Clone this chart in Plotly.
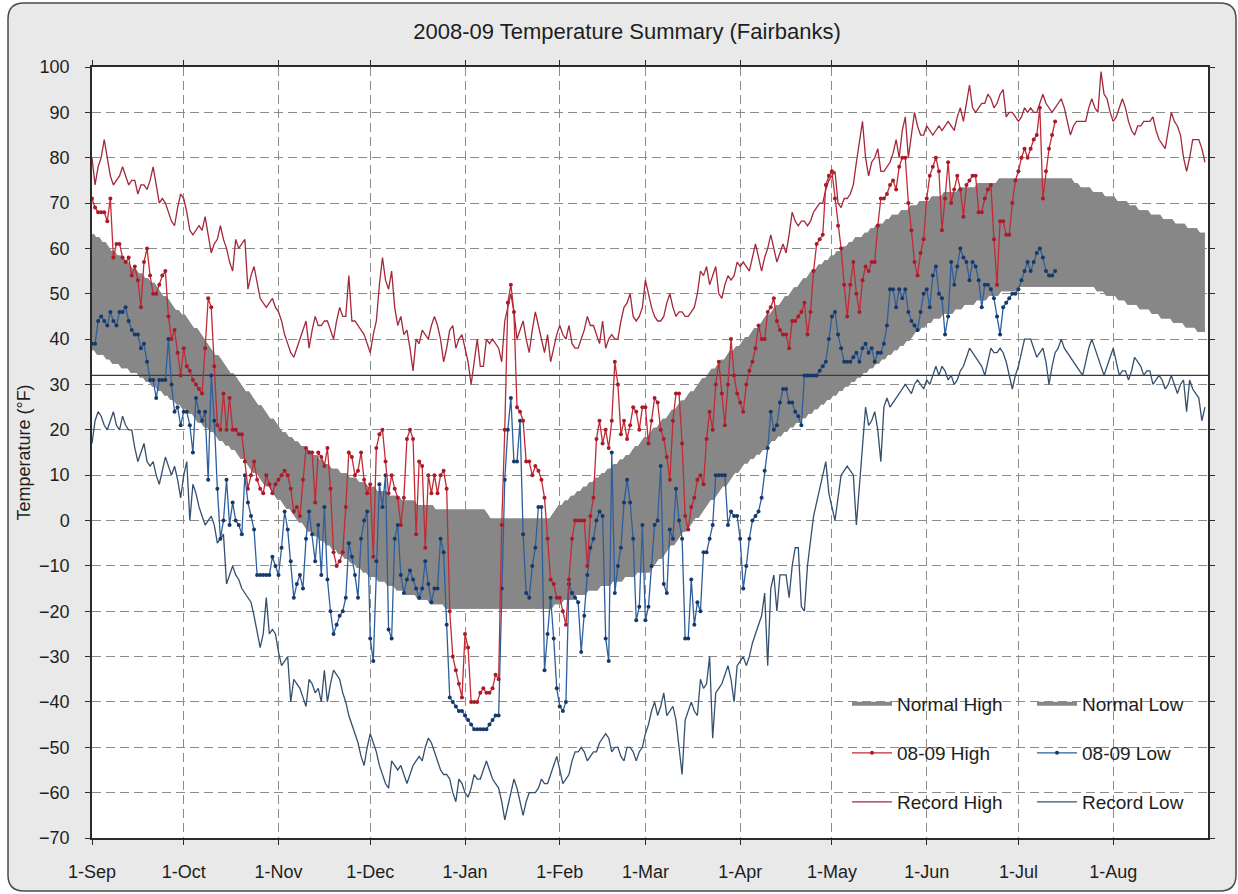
import pandas as pd
import plotly.graph_objects as go

# ---------------- data (daily, starting 1-Sep-2008) ----------------
START = "2008-09-01"
END = "2009-09-01"
MONTH_TICKS = ["2008-09-01", "2008-10-01", "2008-11-01", "2008-12-01", "2009-01-01", "2009-02-01",
               "2009-03-01", "2009-04-01", "2009-05-01", "2009-06-01", "2009-07-01", "2009-08-01"]
MONTH_LABELS = ["1-Sep", "1-Oct", "1-Nov", "1-Dec", "1-Jan", "1-Feb",
                "1-Mar", "1-Apr", "1-May", "1-Jun", "1-Jul", "1-Aug"]
Y_TICKS = list(range(-70, 101, 10))
FREEZING = 32

NORMAL_HIGH = [
    63, 62, 62, 61, 61, 60, 59, 59, 58, 58, 57, 57, 56, 55, 55, 54, 54, 53, 53, 52, 52, 51, 50, 49, 49, 48, 47, 46, 46, 45,
    45, 44, 43, 42, 42, 41, 40, 39, 38, 37, 36, 36, 35, 34, 33, 32, 32, 31, 30, 29, 28, 28, 27, 26, 25, 25, 24, 23, 22, 22, 21,
    20, 19, 19, 18, 18, 17, 17, 16, 16, 15, 15, 14, 14, 13, 13, 12, 12, 11, 11, 11, 10, 10, 10, 9, 9, 9, 8, 8, 8, 7,
    7, 7, 6, 6, 6, 6, 5, 5, 5, 5, 4, 4, 4, 4, 4, 3, 3, 3, 3, 3, 3, 2, 2, 2, 2, 2, 2, 2, 2, 2, 2,
    2, 2, 2, 2, 2, 2, 2, 1, 0, 0, 0, 0, 0, 0, 0, 0, 0, 0, 0, 0, 0, 0, 0, 0, 0, 0, 0, 0, 0, 1, 2,
    3, 3, 4, 4, 5, 5, 6, 6, 7, 7, 8, 8, 9, 9, 10, 10, 11, 11, 12, 12, 13, 13, 14, 14, 15, 16, 16, 17,
    18, 18, 19, 20, 20, 21, 22, 22, 23, 24, 24, 25, 26, 26, 27, 28, 28, 29, 30, 31, 31, 32, 33, 33, 34, 35, 35, 36, 37, 37, 38,
    38, 39, 40, 40, 41, 42, 42, 43, 44, 45, 45, 46, 47, 47, 48, 49, 49, 50, 51, 51, 52, 53, 53, 54, 55, 55, 56, 56, 57, 57,
    58, 58, 59, 59, 60, 60, 61, 61, 62, 62, 62, 63, 63, 64, 64, 65, 65, 65, 66, 66, 67, 67, 67, 68, 68, 68, 69, 69, 69, 70, 70,
    70, 70, 71, 71, 71, 71, 72, 72, 72, 72, 72, 73, 73, 73, 73, 73, 73, 74, 74, 74, 74, 74, 74, 74, 75, 75, 75, 75, 75, 75,
    75, 75, 75, 75, 75, 75, 75, 75, 75, 75, 75, 75, 75, 75, 75, 75, 75, 75, 74, 74, 73, 73, 73, 73, 72, 72, 72, 72, 71, 71, 71,
    71, 70, 70, 70, 70, 69, 69, 69, 68, 68, 68, 68, 67, 67, 67, 67, 66, 66, 66, 66, 65, 65, 65, 65, 64, 64, 64, 64, 63, 63, 63,
]

NORMAL_LOW = [
    38, 38, 37, 37, 37, 36, 36, 35, 35, 35, 34, 34, 34, 33, 33, 33, 32, 32, 31, 31, 30, 30, 29, 29, 28, 28, 27, 27, 26, 26,
    25, 25, 24, 24, 23, 22, 22, 21, 21, 20, 20, 19, 18, 18, 17, 17, 16, 16, 15, 14, 14, 13, 12, 11, 11, 10, 9, 8, 8, 7, 6,
    5, 5, 4, 3, 3, 2, 1, 0, 0, -1, -2, -2, -3, -3, -4, -4, -5, -5, -6, -6, -7, -7, -8, -8, -9, -9, -10, -10, -11, -11,
    -12, -12, -12, -13, -13, -13, -14, -14, -14, -15, -15, -15, -16, -16, -16, -16, -17, -17, -17, -17, -18, -18, -18, -18, -18, -19, -19, -19, -19, -19, -19,
    -19, -19, -19, -19, -19, -19, -19, -19, -19, -19, -19, -19, -19, -19, -19, -19, -19, -19, -19, -19, -19, -19, -19, -19, -19, -19, -19, -19, -19, -18, -18,
    -18, -17, -17, -17, -17, -16, -16, -16, -16, -15, -15, -15, -15, -14, -14, -14, -14, -13, -13, -13, -13, -12, -12, -12, -12, -11, -11, -11,
    -11, -11, -10, -9, -8, -8, -7, -6, -5, -5, -4, -3, -2, -2, -1, 0, 1, 1, 2, 3, 4, 5, 5, 6, 7, 8, 8, 9, 10, 11, 11,
    12, 13, 13, 14, 14, 15, 15, 16, 16, 17, 18, 18, 19, 19, 20, 20, 21, 21, 22, 22, 23, 23, 24, 24, 25, 25, 26, 26, 27, 27,
    28, 28, 29, 29, 30, 30, 31, 31, 32, 32, 33, 33, 34, 34, 35, 35, 36, 36, 37, 37, 38, 38, 39, 39, 40, 40, 41, 42, 42, 43, 43,
    44, 44, 45, 45, 45, 46, 46, 46, 46, 47, 47, 47, 48, 48, 48, 48, 49, 49, 49, 49, 50, 50, 50, 50, 51, 51, 51, 51, 51, 51,
    52, 52, 52, 52, 52, 52, 52, 52, 52, 52, 52, 52, 52, 52, 52, 52, 52, 52, 52, 52, 52, 52, 52, 52, 52, 52, 51, 51, 51, 50, 50,
    50, 50, 49, 49, 49, 48, 48, 48, 48, 47, 47, 47, 47, 46, 46, 46, 45, 45, 45, 45, 44, 44, 44, 44, 43, 43, 43, 43, 42, 42, 42,
]

RECORD_HIGH = [
    80, 74, 78, 80, 84, 80, 76, 74, 75, 76, 78, 76, 74, 75, 75, 72, 74, 74, 73, 75, 78, 74, 70, 71, 70, 68, 66, 65, 69, 72,
    71, 68, 64, 63, 64, 65, 64, 67, 63, 59, 61, 62, 65, 62, 60, 57, 55, 62, 60, 61, 62, 51, 54, 56, 52, 49, 48, 47, 48, 49, 47,
    46, 44, 41, 39, 37, 36, 38, 40, 42, 44, 38, 42, 45, 43, 43, 44, 44, 42, 40, 44, 47, 45, 45, 54, 44, 44, 43, 42, 41, 39,
    37, 41, 44, 52, 58, 53, 51, 55, 47, 43, 45, 41, 42, 38, 33, 40, 39, 42, 41, 40, 43, 45, 43, 40, 35, 38, 42, 43, 38, 40, 41,
    38, 35, 30, 35, 40, 34, 34, 40, 39, 40, 39, 38, 35, 44, 47, 50, 46, 40, 42, 44, 40, 37, 42, 46, 43, 40, 37, 41, 35, 38, 41,
    43, 41, 40, 43, 39, 38, 38, 40, 42, 45, 43, 43, 41, 39, 44, 38, 40, 41, 40, 40, 44, 47, 48, 50, 45, 44, 45, 47,
    53, 50, 47, 45, 44, 44, 45, 48, 50, 47, 45, 46, 46, 45, 45, 46, 47, 50, 55, 54, 56, 52, 54, 56, 50, 49, 52, 54, 53, 54, 57,
    56, 57, 56, 55, 58, 61, 58, 55, 58, 60, 63, 60, 57, 59, 61, 59, 63, 68, 66, 65, 66, 66, 65, 66, 68, 69, 70, 70, 73, 75,
    76, 77, 70, 69, 71, 71, 72, 74, 79, 84, 88, 80, 76, 79, 80, 82, 77, 77, 78, 79, 81, 84, 80, 86, 89, 80, 85, 90, 87, 85, 85,
    87, 86, 85, 86, 87, 86, 87, 88, 87, 86, 89, 91, 88, 92, 96, 91, 90, 91, 92, 92, 94, 93, 91, 92, 94, 95, 89, 90, 90, 89,
    88, 89, 91, 90, 91, 90, 90, 92, 94, 92, 91, 90, 91, 92, 93, 91, 88, 85, 87, 88, 88, 88, 88, 91, 93, 91, 90, 99, 94, 93, 90,
    88, 89, 91, 93, 91, 88, 86, 85, 87, 87, 88, 88, 88, 89, 86, 84, 83, 82, 86, 90, 88, 87, 85, 80, 77, 80, 84, 84, 84, 82, 79,
]

RECORD_LOW = [
    17, 22, 24, 23, 21, 20, 22, 24, 21, 20, 23, 21, 20, 20, 16, 13, 15, 17, 13, 12, 13, 10, 8, 11, 14, 12, 10, 12, 9, 5,
    10, 13, 0, 8, 6, 3, 1, -1, 0, 1, -1, -5, -4, -3, -14, -12, -10, -12, -13, -15, -16, -17, -18, -21, -25, -28, -25, -17, -25, -24, -25,
    -29, -32, -31, -30, -40, -35, -36, -37, -39, -41, -35, -36, -38, -37, -40, -33, -40, -36, -33, -34, -35, -38, -40, -43, -45, -47, -49, -52, -54, -50,
    -47, -49, -51, -54, -56, -58, -59, -53, -54, -55, -54, -56, -58, -56, -54, -53, -52, -53, -50, -48, -49, -51, -53, -55, -56, -56, -57, -60, -62, -57, -58,
    -60, -61, -59, -56, -57, -57, -55, -53, -55, -57, -58, -59, -62, -66, -63, -60, -57, -59, -62, -65, -62, -60, -60, -60, -59, -57, -58, -58, -56, -54, -52,
    -55, -58, -57, -56, -53, -51, -51, -50, -51, -53, -52, -51, -51, -49, -48, -47, -48, -51, -50, -50, -52, -53, -50, -50, -51, -53, -51, -50,
    -47, -45, -42, -40, -43, -41, -38, -43, -42, -41, -44, -50, -56, -44, -42, -40, -42, -43, -35, -37, -36, -30, -48, -38, -37, -36, -34, -32, -35, -40, -32,
    -31, -30, -32, -30, -27, -25, -23, -21, -16, -32, -15, -12, -20, -12, -12, -12, -17, -10, -6, -6, -19, -20, -10, -4, 1, 4, 7, 10, 13, 6,
    3, 0, 5, 10, 11, 12, 11, 10, -1, 8, 18, 25, 21, 22, 24, 20, 13, 25, 27, 25, 26, 27, 28, 29, 30, 29, 28, 30, 31, 30, 29,
    31, 30, 32, 34, 32, 34, 33, 31, 32, 30, 31, 33, 34, 36, 38, 37, 36, 35, 34, 32, 35, 38, 37, 37, 38, 37, 35, 32, 29, 32,
    34, 37, 40, 40, 40, 38, 36, 37, 38, 35, 30, 34, 37, 38, 40, 38, 37, 36, 35, 34, 33, 32, 35, 38, 40, 38, 36, 34, 32, 34, 36,
    38, 35, 32, 33, 33, 31, 33, 36, 35, 34, 32, 33, 33, 30, 31, 32, 31, 29, 30, 32, 30, 28, 30, 31, 24, 31, 29, 28, 27, 22, 25,
]

HIGH_0809 = [
    71, 69, 68, 68, 68, 66, 71, 58, 61, 61, 58, 57, 58, 54, 56, 53, 47, 57, 60, 54, 50, 50, 52, 54, 55, 45, 40, 42, 37, 32,
    38, 34, 33, 31, 30, 29, 28, 38, 49, 47, 34, 21, 20, 28, 20, 27, 20, 20, 19, 19, 13, 7, 10, 13, 9, 7, 6, 10, 8, 6, 8,
    9, 10, 11, 10, 7, 2, 3, 1, 9, 16, 15, 15, 4, 15, 14, 12, 16, 7, -7, -10, -9, -7, 3, 15, 14, 10, 11, 15, 9, 6,
    8, -8, 16, 19, 20, 13, 6, 10, 7, 5, -1, 5, 18, 20, 18, -3, 13, 12, -6, 10, 6, 10, 6, 10, 11, 7, -20, -30, -33, -36, -39,
    -25, -28, -40, -40, -40, -38, -37, -38, -38, -37, -34, -35, -1, 20, 48, 52, 46, 25, 24, 22, 13, 13, 10, 12, 11, 9, 5, -4, -13, -14, -17,
    -17, -20, -23, -13, -4, 0, 0, 0, 0, -10, 1, 5, 18, 22, 17, 20, 16, 22, 35, 30, 19, 22, 18, 21, 25, 24, 20, 25,
    25, 17, 22, 27, 26, 20, 18, 14, 9, 22, 28, 28, 17, 1, -2, 3, 5, 9, 10, 8, 18, 24, 20, 30, 35, 28, 21, 30, 40, 32, 28,
    26, 24, 30, 33, 35, 38, 43, 40, 40, 46, 47, 49, 44, 42, 41, 41, 38, 44, 44, 45, 46, 48, 41, 46, 55, 61, 62, 63, 74, 76,
    77, 71, 65, 60, 52, 45, 52, 57, 50, 46, 53, 56, 55, 57, 57, 65, 71, 71, 72, 74, 75, 73, 78, 80, 80, 70, 64, 57, 54, 59, 62,
    71, 76, 78, 80, 77, 64, 71, 79, 70, 73, 76, 73, 67, 74, 75, 76, 76, 68, 68, 71, 73, 74, 62, 52, 66, 66, 63, 63, 70, 75,
    77, 80, 82, 80, 82, 84, 85, 91, 71, 77, 82, 85, 88,
]

LOW_0809 = [
    39, 39, 44, 45, 44, 43, 46, 44, 43, 46, 46, 47, 44, 42, 41, 41, 38, 39, 35, 31, 31, 27, 31, 31, 31, 40, 30, 24, 25, 21,
    24, 24, 21, 15, 27, 24, 22, 24, 9, 32, 22, 7, -4, 0, 9, -1, 4, 0, -1, -3, 10, 4, 1, -2, -12, -12, -12, -12, -12, -8, -10,
    -12, -6, 2, -2, -9, -17, -14, -12, -15, -4, 2, -3, -9, -1, -12, 3, -13, -20, -25, -23, -21, -20, -17, -5, -8, -12, -17, -4, 0, 2,
    -26, -31, -9, 8, 3, 10, -24, -26, -4, -1, -12, -16, -13, -11, -13, -15, -17, -15, -9, -14, -18, -15, -15, -4, -7, -23, -39, -40, -41, -42, -42,
    -43, -44, -45, -46, -46, -46, -46, -46, -45, -44, -43, -43, -15, 9, 20, 27, 13, 13, 22, -3, -16, -17, -10, -6, 3, 3, -33, -25, -17, -26, -37,
    -41, -42, -40, -14, -16, -17, -18, -29, -21, -12, -6, -4, 0, 2, 1, -26, -31, 15, -16, -10, -6, 4, 9, 4, -4, -22, -19, -1,
    -22, -19, -10, -1, 0, 12, -14, -16, -2, -4, 7, 0, -4, -26, -26, -13, -23, -18, -20, -7, -7, -4, -1, 10, 10, 10, 10, -1, 2, 1, 1,
    -4, -15, -10, -4, 0, 1, 2, 5, 11, 16, 24, 20, 21, 26, 29, 29, 26, 26, 24, 23, 21, 32, 32, 32, 32, 32, 33, 34, 35, 40,
    45, 46, 41, 38, 35, 35, 35, 36, 37, 35, 38, 39, 37, 38, 35, 37, 37, 39, 43, 51, 51, 47, 51, 49, 51, 46, 44, 43, 42, 46, 50,
    51, 47, 54, 56, 50, 49, 41, 45, 57, 52, 56, 60, 58, 57, 53, 57, 56, 53, 47, 52, 52, 51, 49, 45, 41, 47, 48, 49, 50, 50,
    51, 53, 55, 57, 55, 57, 59, 60, 58, 55, 54, 54, 55,
]


def days(values):
    return pd.date_range(START, periods=len(values), freq="D")


# ---------------- styling ----------------
FONT = "Liberation Sans, Arial, Helvetica, sans-serif"
TEXT = "#1e1e1e"
BAND = "#878787"
W, H = 1238, 894
PL, PR, PT, PB = 92, 1208, 67, 838          # plot-area box in pixels


def px_x(px):
    return (px - PL) / (PR - PL)


def px_y(py):
    return (PB - py) / (PB - PT)


fig = go.Figure()

# normal band (fill between the two normal curves)
fig.add_trace(go.Scatter(x=days(NORMAL_LOW), y=NORMAL_LOW, mode="lines",
                         line=dict(color=BAND, width=4), showlegend=False, hoverinfo="skip"))
fig.add_trace(go.Scatter(x=days(NORMAL_HIGH), y=NORMAL_HIGH, mode="lines",
                         line=dict(color=BAND, width=4), fill="tonexty", fillcolor=BAND,
                         showlegend=False, hoverinfo="skip"))
# legend entries for the normals (thick grey lines)
fig.add_trace(go.Scatter(x=days(NORMAL_HIGH), y=NORMAL_HIGH, name="Normal High", mode="lines",
                         line=dict(color=BAND, width=4), legend="legend", legendrank=1, hoverinfo="skip"))
fig.add_trace(go.Scatter(x=days(NORMAL_LOW), y=NORMAL_LOW, name="Normal Low", mode="lines",
                         line=dict(color=BAND, width=4), legend="legend", legendrank=2, hoverinfo="skip"))

fig.add_trace(go.Scatter(x=[START, END], y=[FREEZING, FREEZING], mode="lines",
                         line=dict(color="#3a3a3a", width=1.2), showlegend=False, hoverinfo="skip"))
fig.add_trace(go.Scatter(x=days(RECORD_LOW), y=RECORD_LOW, name="Record Low", mode="lines",
                         line=dict(color="#34506e", width=1.3), legend="legend3", legendrank=2))
fig.add_trace(go.Scatter(x=days(RECORD_HIGH), y=RECORD_HIGH, name="Record High", mode="lines",
                         line=dict(color="#a2283a", width=1.3), legend="legend3", legendrank=1))
fig.add_trace(go.Scatter(x=days(LOW_0809), y=LOW_0809, name="08-09 Low", mode="lines+markers",
                         line=dict(color="#2d5f9e", width=1.3),
                         marker=dict(color="#17396a", size=4), legend="legend2", legendrank=2))
fig.add_trace(go.Scatter(x=days(HIGH_0809), y=HIGH_0809, name="08-09 High", mode="lines+markers",
                         line=dict(color="#c22a36", width=1.3),
                         marker=dict(color="#a81c2a", size=4), legend="legend2", legendrank=1))

# rounded outer frame + white plot area
r = 16
x0, x1 = px_x(8), px_x(1236)
y0, y1 = px_y(891), px_y(3)
rx, ry = r / (PR - PL), r / (PB - PT)
frame_path = (f"M{x0+rx},{y1} L{x1-rx},{y1} Q{x1},{y1} {x1},{y1-ry} L{x1},{y0+ry} "
              f"Q{x1},{y0} {x1-rx},{y0} L{x0+rx},{y0} Q{x0},{y0} {x0},{y0+ry} "
              f"L{x0},{y1-ry} Q{x0},{y1} {x0+rx},{y1} Z")
fig.add_shape(type="path", path=frame_path, xref="paper", yref="paper", layer="below",
              fillcolor="#e9e9e9", line=dict(color="#4a4a4a", width=1.5))
fig.add_shape(type="rect", x0=0, x1=1, y0=0, y1=1, xref="paper", yref="paper", layer="below",
              fillcolor="white", line=dict(width=0))

leg_common = dict(orientation="h", bgcolor="rgba(0,0,0,0)", borderwidth=0, traceorder="normal",
                  font=dict(family=FONT, size=19, color=TEXT),
                  itemwidth=40, entrywidth=130, entrywidthmode="pixels",
                  x=px_x(847), xanchor="left", yanchor="middle")

axis_common = dict(showline=True, mirror="ticks", linecolor="#2b2b2b", linewidth=1.5,
                   ticks="outside", ticklen=5, tickcolor="#2b2b2b", tickwidth=1,
                   showgrid=True, gridcolor="#8c8c8c", gridwidth=1, griddash="9px,5px",
                   zeroline=False, tickfont=dict(family=FONT, size=18, color=TEXT))

fig.update_layout(
    width=W, height=H,
    margin=dict(l=PL, r=W - PR, t=PT, b=H - PB, autoexpand=False),
    paper_bgcolor="white", plot_bgcolor="white",
    title=dict(text="2008-09 Temperature Summary (Fairbanks)", xref="container", yref="container",
               x=627 / W, y=1 - 31 / H, xanchor="center", yanchor="middle",
               font=dict(family=FONT, size=22, color=TEXT)),
    xaxis=dict(type="date", range=[START, END], tickvals=MONTH_TICKS, ticktext=MONTH_LABELS,
               ticklabelstandoff=12, **axis_common),
    yaxis=dict(range=[-70, 100], tickvals=Y_TICKS, ticklabelstandoff=12,
               title=dict(text="Temperature (°F)", standoff=4,
                          font=dict(family=FONT, size=18, color=TEXT)),
               **axis_common),
    legend=dict(y=px_y(704), **leg_common),
    legend2=dict(y=px_y(753), **leg_common),
    legend3=dict(y=px_y(802), **leg_common),
    showlegend=True,
    hovermode=False,
)

fig.write_html("out.html", config={"displayModeBar": False},
               post_script="document.body.style.margin='0px';")
